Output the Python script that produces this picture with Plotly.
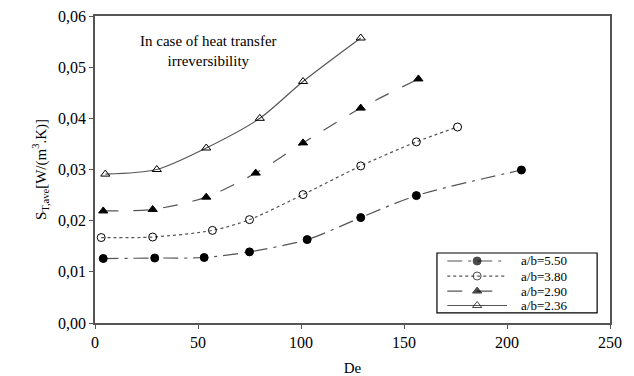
import plotly.graph_objects as go

# Data
de_550 = [4, 29, 53, 75, 103, 129, 156, 207]
s_550 = [0.0126, 0.0127, 0.0128, 0.0139, 0.0163, 0.0206, 0.0249, 0.0299]

de_380 = [3, 28, 57, 75, 101, 129, 156, 176]
s_380 = [0.0167, 0.0168, 0.0181, 0.0202, 0.0251, 0.0307, 0.0354, 0.0383]

de_290 = [4, 28, 54, 78, 101, 129, 157]
s_290 = [0.0219, 0.0222, 0.0246, 0.0293, 0.0352, 0.0420, 0.0477]

de_236 = [5, 30, 54, 80, 101, 129]
s_236 = [0.0291, 0.0300, 0.0342, 0.0400, 0.0472, 0.0557]

series_names = ["a/b=5.50", "a/b=3.80", "a/b=2.90", "a/b=2.36"]
x_ticks = [0, 50, 100, 150, 200, 250]
y_ticks = [0.00, 0.01, 0.02, 0.03, 0.04, 0.05, 0.06]

FONT = "Times New Roman, Liberation Serif, DejaVu Serif, serif"
LINE_COL = "#555555"

styles = [
    dict(dash="longdashdot", symbol="circle"),
    dict(dash="dot", symbol="circle-open"),
    dict(dash="longdash", symbol="triangle-up"),
    dict(dash="solid", symbol="triangle-up-open"),
]

fig = go.Figure()
for xs, ys, name, st in zip([de_550, de_380, de_290, de_236],
                            [s_550, s_380, s_290, s_236],
                            series_names, styles):
    fig.add_trace(go.Scatter(
        x=xs, y=ys, name=name, mode="lines+markers", showlegend=False,
        line=dict(color=LINE_COL, width=1.2, dash=st["dash"], shape="spline", smoothing=0.8),
        marker=dict(symbol=st["symbol"], size=8, color="black",
                    line=dict(color="black", width=1)),
    ))

# Custom legend drawn on an overlay axis spanning the plot area (0..1 both ways)
LEG_X0, LEG_X1 = 0.664, 0.975
LEG_Y1, LEG_Y0 = 0.228, 0.033
row_y = [0.202, 0.153, 0.104, 0.057]
samp_x = [0.684, 0.742, 0.800]
for name, st, ry in zip(series_names, styles, row_y):
    fig.add_trace(go.Scatter(
        x=samp_x, y=[ry, ry, ry], xaxis="x2", yaxis="y2",
        mode="lines+markers", showlegend=False, hoverinfo="skip",
        line=dict(color=LINE_COL, width=1.2, dash=st["dash"]),
        marker=dict(symbol=st["symbol"], size=[0, 8, 0], color="black",
                    line=dict(color="black", width=1)),
    ))
    fig.add_annotation(xref="x2", yref="y2", x=0.825, y=ry, xanchor="left",
                       yanchor="middle", text=name, showarrow=False,
                       font=dict(family=FONT, size=13, color="black"),
                       borderpad=0)

fig.add_shape(type="rect", xref="x2", yref="y2", x0=LEG_X0, x1=LEG_X1,
              y0=LEG_Y0, y1=LEG_Y1, line=dict(color="black", width=1.2),
              fillcolor="rgba(0,0,0,0)", layer="below")

fig.update_layout(
    width=634, height=376,
    margin=dict(l=95, r=24, t=16, b=53),
    paper_bgcolor="white", plot_bgcolor="white",
    separators=", ",
    font=dict(family=FONT, size=15, color="black"),
    showlegend=False,
    xaxis=dict(
        range=[0, 250], tickvals=x_ticks, ticktext=[str(v) for v in x_ticks],
        showgrid=False, zeroline=False, automargin=False,
        showline=True, linecolor="#555555", linewidth=1.5, mirror=True,
        ticks="outside", ticklen=4, tickcolor="#555555",
        tickfont=dict(family=FONT, size=16),
        title=dict(text="De", font=dict(family=FONT, size=15), standoff=14),
    ),
    yaxis=dict(
        range=[0, 0.06], tickvals=y_ticks, tickformat=".2f",
        showgrid=False, zeroline=False, automargin=False,
        showline=True, linecolor="#555555", linewidth=1.5, mirror=True,
        ticks="outside", ticklen=4, tickcolor="#555555",
        tickfont=dict(family=FONT, size=16),
        title=dict(text="S<sub>T,ave</sub>[W/(m<sup>3</sup>.K)]",
                   font=dict(family=FONT, size=15), standoff=8),
    ),
    xaxis2=dict(overlaying="x", range=[0, 1], visible=False, fixedrange=True),
    yaxis2=dict(overlaying="y", range=[0, 1], visible=False, fixedrange=True),
)

fig.add_annotation(
    xref="paper", yref="paper", x=0.22, y=0.886, xanchor="center", yanchor="middle",
    text="In case of heat transfer<br>irreversibility", showarrow=False,
    font=dict(family=FONT, size=15, color="black"),
)

fig.write_html("out.html")
